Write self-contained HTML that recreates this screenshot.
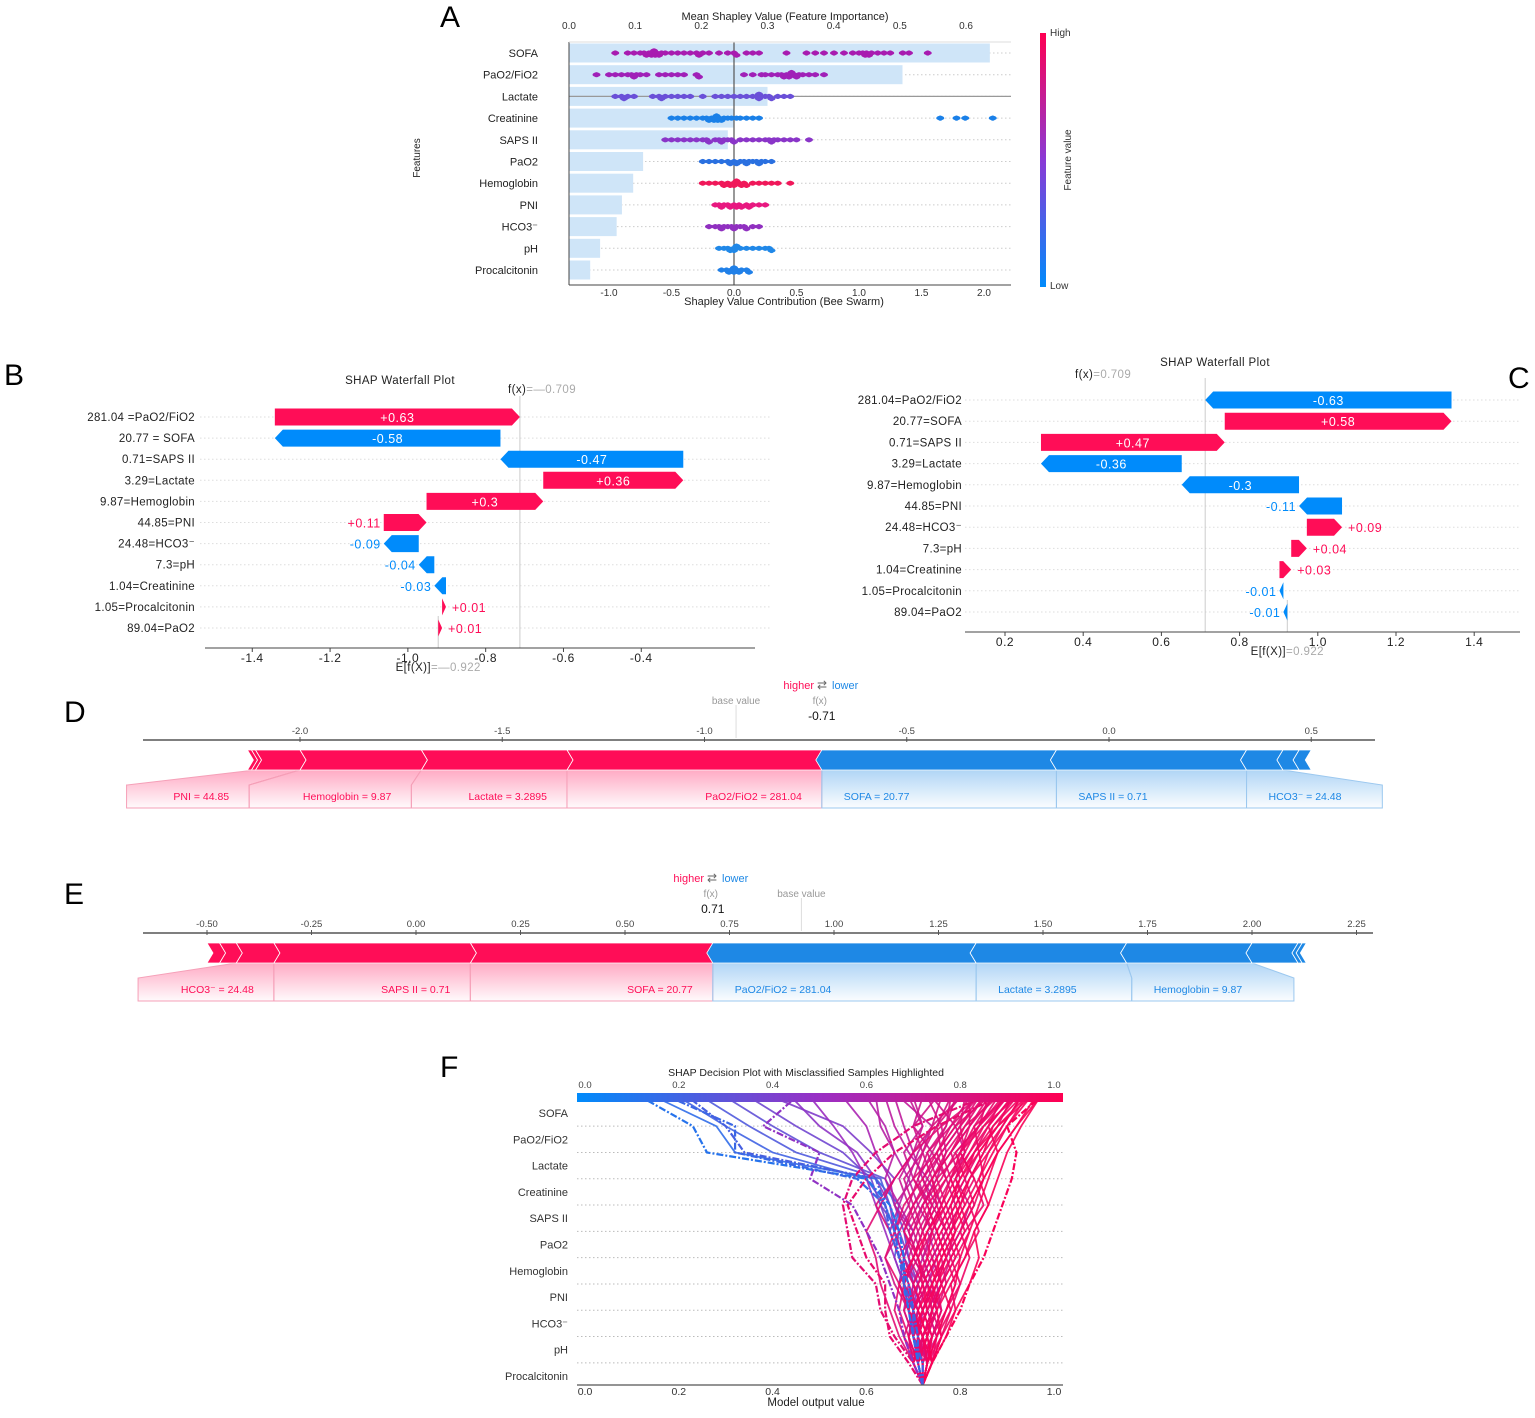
<!DOCTYPE html>
<html><head><meta charset="utf-8"><title>SHAP figure</title>
<style>
html,body{margin:0;padding:0;background:#fff;}
svg{display:block;font-family:"Liberation Sans",Arial,sans-serif;}
</style></head>
<body>
<svg id="fig" xmlns="http://www.w3.org/2000/svg" width="1535" height="1418" viewBox="0 0 1535 1418">
<defs>
<linearGradient id="cbarV" x1="0" y1="0" x2="0" y2="1"><stop offset="0" stop-color="#ff0052"/><stop offset="0.5" stop-color="#8a3ad6"/><stop offset="1" stop-color="#008bfb"/></linearGradient>
<linearGradient id="cbarH" x1="0" y1="0" x2="1" y2="0"><stop offset="0" stop-color="#008bfb"/><stop offset="0.5" stop-color="#9a2fc4"/><stop offset="1" stop-color="#ff0052"/></linearGradient>
<linearGradient id="pinkFade" x1="0" y1="0" x2="0" y2="1"><stop offset="0" stop-color="#ff0d57" stop-opacity="0.35"/><stop offset="1" stop-color="#ff0d57" stop-opacity="0.02"/></linearGradient>
<linearGradient id="blueFade" x1="0" y1="0" x2="0" y2="1"><stop offset="0" stop-color="#1e88e5" stop-opacity="0.35"/><stop offset="1" stop-color="#1e88e5" stop-opacity="0.02"/></linearGradient>
</defs>
<rect x="0" y="0" width="1535" height="1418" fill="#fff"/>
<text x="440" y="27" font-size="30">A</text>
<text x="4" y="385" font-size="30">B</text>
<text x="1508" y="388" font-size="30">C</text>
<text x="64" y="722" font-size="30">D</text>
<text x="64" y="904" font-size="30">E</text>
<text x="440" y="1077" font-size="30">F</text>
</svg>
<script>
// ---------- DATA ----------
const features = ["SOFA","PaO2/FiO2","Lactate","Creatinine","SAPS II","PaO2","Hemoglobin","PNI","HCO3\u207B","pH","Procalcitonin"];
const aImportance = [0.636,0.504,0.30,0.25,0.24,0.112,0.097,0.08,0.072,0.047,0.032];
const aTopTicks = [0.0,0.1,0.2,0.3,0.4,0.5,0.6];
const aBottomTicks = [-1.0,-0.5,0.0,0.5,1.0,1.5,2.0];
const swarmSOFA = [-0.95,-0.85,-0.8,-0.75,-0.72,-0.7,-0.68,-0.66,-0.65,-0.64,-0.63,-0.62,-0.6,-0.58,-0.55,-0.5,-0.45,-0.4,-0.35,-0.3,-0.28,-0.25,-0.2,-0.12,-0.05,0.0,0.02,0.1,0.15,0.2,0.42,0.58,0.65,0.72,0.8,0.88,0.95,1.0,1.03,1.05,1.06,1.08,1.1,1.15,1.2,1.25,1.35,1.4,1.55];
const swarmPF = [-1.1,-1.0,-0.95,-0.9,-0.85,-0.82,-0.8,-0.78,-0.75,-0.7,-0.6,-0.55,-0.5,-0.45,-0.4,-0.3,-0.28,0.08,0.15,0.22,0.25,0.3,0.35,0.38,0.4,0.42,0.44,0.45,0.46,0.48,0.5,0.52,0.55,0.6,0.65,0.72];
const swarmLactate = [-0.95,-0.9,-0.88,-0.85,-0.8,-0.65,-0.6,-0.58,-0.55,-0.5,-0.45,-0.4,-0.35,-0.25,-0.15,-0.1,-0.05,0.0,0.05,0.1,0.15,0.18,0.2,0.2,0.22,0.25,0.28,0.3,0.35,0.4,0.45];
const swarmCreat = [-0.5,-0.45,-0.4,-0.35,-0.3,-0.25,-0.22,-0.2,-0.18,-0.16,-0.15,-0.14,-0.13,-0.12,-0.1,-0.08,-0.05,-0.02,0.02,0.05,0.1,0.15,0.2,1.65,1.78,1.85,2.07];
const swarmSAPS = [-0.55,-0.5,-0.45,-0.4,-0.35,-0.3,-0.25,-0.22,-0.2,-0.15,-0.12,-0.1,-0.08,-0.05,-0.02,0.0,0.05,0.1,0.15,0.2,0.25,0.28,0.3,0.32,0.35,0.4,0.45,0.5,0.6];
const swarmPaO2 = [-0.25,-0.2,-0.15,-0.1,-0.05,-0.03,0.0,0.02,0.05,0.08,0.1,0.12,0.15,0.18,0.2,0.22,0.25,0.3];
const swarmHemo = [-0.25,-0.2,-0.15,-0.1,-0.08,-0.05,-0.03,0.0,0.0,0.02,0.04,0.06,0.08,0.1,0.15,0.2,0.25,0.3,0.35,0.45];
const swarmPNI = [-0.15,-0.12,-0.1,-0.08,-0.05,-0.03,0.0,0.02,0.04,0.06,0.1,0.12,0.15,0.2,0.25];
const swarmHCO3 = [-0.2,-0.15,-0.12,-0.1,-0.08,-0.05,-0.02,0.0,0.02,0.05,0.08,0.1,0.15,0.2];
const swarmPH = [-0.12,-0.08,-0.05,-0.03,0.0,0.0,0.02,0.05,0.1,0.15,0.2,0.25,0.28,0.3];
const swarmProcal = [-0.1,-0.06,-0.04,-0.02,0.0,0.0,0.02,0.04,0.06,0.1,0.12];
const swarmColors = ['#a81bb0','#a020b8','#6a50d8','#1a80e8','#8a35c8','#2a70e0','#f0185a','#e81880','#9030c0','#2088e8','#2080e8'];

const bLabels = ["281.04 =PaO2/FiO2","20.77 = SOFA","0.71=SAPS II","3.29=Lactate","9.87=Hemoglobin","44.85=PNI","24.48=HCO3\u207B","7.3=pH","1.04=Creatinine","1.05=Procalcitonin","89.04=PaO2"];
const bValues = [0.63,-0.58,-0.47,0.36,0.3,0.11,-0.09,-0.04,-0.03,0.01,0.01];
const bBase = -0.922;
const bTicks = [-1.4,-1.2,-1.0,-0.8,-0.6,-0.4];
const cLabels = ["281.04=PaO2/FiO2","20.77=SOFA","0.71=SAPS II","3.29=Lactate","9.87=Hemoglobin","44.85=PNI","24.48=HCO3\u207B","7.3=pH","1.04=Creatinine","1.05=Procalcitonin","89.04=PaO2"];
const cValues = [-0.63,0.58,0.47,-0.36,-0.3,-0.11,0.09,0.04,0.03,-0.01,-0.01];
const cBase = 0.922;
const cTicks = [0.2,0.4,0.6,0.8,1.0,1.2,1.4];

const dNames = ["PaO2/FiO2 = 281.04","Lactate = 3.2895","Hemoglobin = 9.87","PNI = 44.85","Procalcitonin = 1.05","PaO2 = 89.04","SOFA = 20.77","SAPS II = 0.71","HCO3\u207B = 24.48","pH = 7.3","Creatinine = 1.04"];
const dValues = [0.63,0.36,0.3,0.11,0.01,0.01,-0.58,-0.47,-0.09,-0.04,-0.03];
const dLabeled = [1,1,1,1,0,0,1,1,1,0,0];
const dBase = -0.922, dFx = -0.71;
const dTicks = [-2.0,-1.5,-1.0,-0.5,0.0,0.5];
const eNames = ["SOFA = 20.77","SAPS II = 0.71","HCO3\u207B = 24.48","pH = 7.3","Creatinine = 1.04","PaO2/FiO2 = 281.04","Lactate = 3.2895","Hemoglobin = 9.87","PNI = 44.85","Procalcitonin = 1.05","PaO2 = 89.04"];
const eValues = [0.58,0.47,0.09,0.04,0.03,-0.63,-0.36,-0.3,-0.11,-0.01,-0.01];
const eLabeled = [1,1,1,0,0,1,1,1,0,0,0];
const eBase = 0.922, eFx = 0.71;
const eTicks = [-0.50,-0.25,0.00,0.25,0.50,0.75,1.00,1.25,1.50,1.75,2.00,2.25];

const fTicks = [0.0,0.2,0.4,0.6,0.8,1.0];
// cumulative model output per sample: [base, +Procal, +pH, +HCO3, +PNI, +Hemo, +PaO2, +SAPS, +Creat, +Lactate, +PaO2/FiO2, +SOFA]
const fSamples = [
[.72,.73,.75,.77,.79,.80,.82,.84,.86,.88,.92,.96],
[.72,.71,.73,.74,.76,.75,.78,.80,.82,.85,.87,.93],
[.72,.72,.70,.72,.70,.73,.74,.76,.78,.80,.83,.90],
[.72,.74,.76,.78,.80,.82,.80,.83,.85,.84,.88,.91],
[.72,.70,.69,.67,.68,.70,.72,.75,.74,.78,.81,.88],
[.72,.73,.72,.74,.73,.76,.74,.72,.76,.79,.84,.86],
[.72,.71,.70,.71,.69,.67,.70,.73,.70,.75,.78,.84],
[.72,.74,.73,.75,.77,.76,.79,.77,.80,.78,.82,.82],
[.72,.70,.72,.69,.71,.73,.71,.74,.72,.76,.75,.80],
[.72,.73,.75,.73,.76,.78,.76,.79,.77,.74,.77,.78],
[.72,.71,.69,.70,.68,.70,.68,.71,.74,.72,.74,.76],
[.72,.72,.74,.76,.75,.77,.80,.82,.79,.81,.79,.74],
[.72,.73,.71,.72,.74,.72,.75,.73,.71,.74,.70,.72],
[.72,.70,.71,.69,.70,.68,.66,.69,.67,.70,.72,.70],
[.72,.74,.76,.75,.78,.81,.83,.86,.84,.87,.90,.95],
[.72,.71,.73,.75,.74,.77,.79,.78,.81,.83,.86,.89],
[.72,.73,.72,.70,.72,.71,.73,.76,.79,.82,.85,.92],
[.72,.72,.70,.73,.71,.74,.77,.75,.78,.81,.80,.85],
[.72,.71,.72,.74,.76,.74,.72,.74,.77,.75,.79,.83],
[.72,.74,.75,.77,.79,.77,.80,.83,.81,.84,.83,.87],
[.72,.71,.70,.68,.69,.67,.65,.67,.64,.66,.63,.62],
[.72,.73,.71,.72,.70,.68,.70,.66,.65,.62,.60,.55],
[.72,.70,.69,.71,.68,.66,.64,.62,.60,.57,.53,.48],
[.72,.71,.72,.70,.71,.69,.67,.63,.66,.61,.55,.40],
[.72,.72,.70,.69,.67,.68,.66,.65,.62,.58,.50,.44],
[.72,.71,.70,.69,.68,.66,.67,.65,.63,.45,.35,.25],
[.72,.70,.71,.69,.70,.68,.66,.64,.60,.40,.30,.20],
[.72,.71,.69,.70,.67,.68,.66,.67,.62,.32,.28,.15],
[.72,.73,.71,.72,.70,.69,.68,.66,.64,.50,.40,.30],
[.72,.71,.70,.71,.69,.67,.65,.63,.61,.55,.45,.35],
[.72,.73,.74,.72,.75,.77,.75,.78,.80,.83,.88,.94],
[.72,.71,.73,.71,.73,.70,.72,.70,.73,.76,.80,.81],
[.72,.74,.72,.74,.76,.79,.77,.80,.83,.80,.85,.90],
[.72,.70,.68,.70,.72,.69,.71,.69,.71,.73,.77,.79],
[.72,.73,.75,.78,.76,.79,.82,.80,.78,.82,.86,.91],
[.72,.72,.74,.72,.74,.72,.70,.72,.75,.77,.76,.73],
[.72,.71,.70,.72,.70,.72,.74,.71,.69,.71,.74,.67],
[.72,.73,.72,.75,.73,.75,.73,.76,.73,.69,.66,.64],
[.72,.71,.73,.74,.77,.80,.78,.81,.84,.86,.89,.93],
[.72,.74,.73,.71,.74,.76,.79,.82,.85,.88,.92,.97],
[.72,.72,.71,.73,.72,.75,.78,.81,.79,.83,.87,.92],
[.72,.73,.74,.76,.74,.77,.75,.78,.81,.79,.84,.88],
[.72,.71,.72,.70,.73,.71,.74,.77,.75,.80,.82,.86],
[.72,.70,.71,.73,.75,.73,.76,.79,.82,.86,.90,.94],
[.72,.74,.77,.79,.82,.84,.83,.86,.88,.90,.93,.97],
[.72,.70,.67,.65,.63,.62,.60,.63,.66,.70,.76,.84],
[.72,.73,.76,.79,.78,.81,.84,.82,.85,.88,.86,.91],
[.72,.71,.68,.66,.67,.64,.66,.68,.72,.75,.79,.86],
[.72,.72,.74,.77,.80,.78,.81,.85,.83,.80,.84,.89],
[.72,.70,.72,.75,.73,.71,.68,.70,.74,.78,.82,.87],
[.72,.74,.72,.69,.67,.70,.73,.77,.80,.84,.88,.95],
[.72,.71,.74,.72,.70,.67,.65,.62,.66,.70,.74,.80],
[.72,.73,.70,.68,.71,.74,.77,.80,.78,.76,.80,.84],
[.72,.72,.75,.73,.76,.74,.77,.74,.70,.72,.75,.78],
[.72,.71,.69,.72,.75,.78,.81,.79,.82,.85,.89,.93],
[.72,.73,.71,.69,.66,.64,.67,.70,.68,.72,.70,.75],
[.72,.74,.76,.74,.72,.75,.78,.76,.74,.77,.81,.85],
[.72,.70,.73,.71,.68,.71,.69,.72,.75,.73,.78,.82],
[.72,.72,.70,.72,.74,.77,.75,.73,.77,.81,.84,.90],
[.72,.71,.72,.70,.73,.71,.69,.66,.70,.68,.72,.69],
[.72,.73,.74,.76,.73,.70,.72,.75,.72,.70,.68,.66],
[.72,.70,.71,.73,.71,.68,.70,.67,.69,.66,.64,.60]
];
const fMisclassified = [
[.72,.70,.66,.63,.62,.57,.56,.55,.57,.62,.70,.85],
[.72,.74,.77,.80,.82,.85,.87,.89,.91,.92,.90,.97],
[.72,.69,.65,.64,.64,.60,.58,.56,.60,.66,.75,.88],
[.72,.70,.68,.67,.65,.63,.60,.57,.48,.50,.38,.45],
[.72,.71,.70,.69,.68,.68,.67,.65,.60,.26,.23,.12],
[.72,.71,.71,.70,.69,.67,.66,.64,.58,.32,.32,.18],
[.72,.72,.70,.70,.68,.67,.65,.64,.62,.34,.30,.22]
];

// ---------- HELPERS ----------
const NS = 'http://www.w3.org/2000/svg';
const svg = document.getElementById('fig');
function mk(tag, attrs, parent){ const e=document.createElementNS(NS,tag); for(const k in attrs) e.setAttribute(k,attrs[k]); (parent||svg).appendChild(e); return e; }
function tx(x,y,s,attrs,parent){ const e=mk('text',Object.assign({x:x,y:y},attrs||{}),parent); e.textContent=s; return e; }
function grp(){ return mk('g',{}); }
const RED='#ff0d57', BLUE='#1e88e5', WBLUE='#008bfb';

// ---------- PANEL A ----------
const gA = grp();


const xImp = v => 569 + v*661.7;
const xShap = v => 734 + v*125;
const rowA = i => 53 + i*21.7;
const aPlotL=569, aPlotR=1011, aTop=42, aBot=285;
features.forEach((f,i)=>{
  const gl = mk('line',{x1:aPlotL,x2:aPlotR,y1:rowA(i),y2:rowA(i),stroke:'#ccc','stroke-dasharray':'1.5,2.5','stroke-width':1},gA);
  
  
  const b = mk('rect',{x:aPlotL,y:rowA(i)-9.5,width:xImp(aImportance[i])-aPlotL,height:19,fill:'#cfe5f8'},gA);
  
  
  const l = tx(538,rowA(i)+4,f,{'font-size':11,'text-anchor':'end',fill:'#222'},gA);
  
  
});
const lacLine = mk('line',{x1:aPlotL,x2:aPlotR,y1:rowA(2),y2:rowA(2),stroke:'#999','stroke-width':1.2},gA);


const zeroLine = mk('line',{x1:xShap(0),x2:xShap(0),y1:aTop,y2:aBot,stroke:'#555','stroke-width':1.2},gA);


const swarms=[swarmSOFA,swarmPF,swarmLactate,swarmCreat,swarmSAPS,swarmPaO2,swarmHemo,swarmPNI,swarmHCO3,swarmPH,swarmProcal];
swarms.forEach((arr,i)=>{
  const placed=[];
  const r=2.6;
  arr.slice().sort((a,b)=>a-b).forEach(v=>{
    const x=xShap(v);
    let off=0;
    for(let k=0;k<7;k++){
      const cand = (k%2?1:-1)*Math.ceil(k/2)*2.2;
      if(!placed.some(p=>Math.abs(p.x-x)<3 && Math.abs(p.y-cand)<2)){ off=cand; break; }
      off=cand;
    }
    placed.push({x:x,y:off});
    const d = mk('circle',{cx:x,cy:rowA(i)+off,r:r,fill:swarmColors[i]},gA);
    
    
    const d2 = mk('ellipse',{cx:x,cy:rowA(i)+off,rx:4,ry:2.2,fill:swarmColors[i]},gA);
    
    
  });
});
mk('line',{x1:aPlotL,x2:aPlotL,y1:aTop,y2:aBot,stroke:'#444'},gA);
mk('line',{x1:aPlotL,x2:aPlotR,y1:aBot,y2:aBot,stroke:'#444'},gA);
mk('line',{x1:aPlotL,x2:aPlotR,y1:aTop,y2:aTop,stroke:'#ddd'},gA);
aTopTicks.forEach(t=>{
  const e=tx(xImp(t),29,t.toFixed(1),{'font-size':10,'text-anchor':'middle',fill:'#333'},gA);
  
  
});
aBottomTicks.forEach(t=>{
  const e=tx(xShap(t),296,t.toFixed(1),{'font-size':10,'text-anchor':'middle',fill:'#333'},gA);
  
  
});
let e;
e=tx(785,20,'Mean Shapley Value (Feature Importance)',{'font-size':11,'text-anchor':'middle',fill:'#222'},gA);

e=tx(784,305,'Shapley Value Contribution (Bee Swarm)',{'font-size':11,'text-anchor':'middle',fill:'#222'},gA);

e=tx(0,0,'Features',{'font-size':10,'text-anchor':'middle',fill:'#222',transform:'translate(420,158) rotate(-90)'},gA);

e=mk('rect',{x:1040,y:33,width:6,height:254,fill:'url(#cbarV)'},gA);

e=tx(1050,36,'High',{'font-size':10,fill:'#333'},gA);

e=tx(1050,289,'Low',{'font-size':10,fill:'#333'},gA);

e=tx(0,0,'Feature value',{'font-size':10,'text-anchor':'middle',fill:'#333',transform:'translate(1071,160) rotate(-90)'},gA);


// ---------- WATERFALLS ----------
function waterfall(cfg){
  const g=grp();
  
  
  const n=cfg.values.length;
  cfg.labels.forEach((l,i)=>{
    const gl=mk('line',{x1:cfg.gridL,x2:cfg.gridR,y1:cfg.row(i),y2:cfg.row(i),stroke:'#ddd','stroke-dasharray':'1.5,2.5'},g);
    
    
    const t=tx(cfg.labelX,cfg.row(i)+4,l,{'font-size':11.5,'text-anchor':'end',fill:'#222','letter-spacing':'0.3'},g);
    
    
  });
  const baseL=mk('line',{x1:cfg.x(cfg.base),x2:cfg.x(cfg.base),y1:cfg.row(n-1)-12,y2:cfg.axisY,stroke:'#ccc'},g);
  
  
  let cum=cfg.base;
  const ends=[];
  for(let i=n-1;i>=0;i--){ const s=cum, en=cum+cfg.values[i]; ends[i]={s:s,e:en}; cum=en; }
  const fx=cum;
  const fxL=mk('line',{x1:cfg.x(fx),x2:cfg.x(fx),y1:cfg.fxTop,y2:cfg.axisY,stroke:'#ccc'},g);
  
  
  for(let i=0;i<n;i++){
    const v=cfg.values[i], y=cfg.row(i), h=17, y0=y-h/2, y1=y+h/2;
    const xs=cfg.x(ends[i].s), xe=cfg.x(ends[i].e);
    const w=Math.abs(xe-xs), hd=Math.min(8,w);
    let pts;
    if(v>=0) pts=[[xs,y0],[xe-hd,y0],[xe,y],[xe-hd,y1],[xs,y1]];
    else pts=[[xs,y0],[xe+hd,y0],[xe,y],[xe+hd,y1],[xs,y1]];
    const col = v>=0?RED:WBLUE;
    const p=mk('polygon',{points:pts.map(q=>q.join(',')).join(' '),fill:col},g);
    
    
    const lbl=(v>0?'+':'')+String(v);
    let t;
    if(Math.abs(v)>=0.2){
      t=tx((xs+xe)/2,y+5,lbl,{'font-size':12.5,'text-anchor':'middle',fill:'#fff','letter-spacing':'0.5'},g);
    } else if(v>0 && v<=cfg.posLeftAbove){
      t=tx(Math.max(xs,xe)+6,y+5,lbl,{'font-size':12.5,fill:RED,'letter-spacing':'0.5'},g);
    } else {
      t=tx(Math.min(xs,xe)-3,y+5,lbl,{'font-size':12.5,'text-anchor':'end',fill:v>0?RED:WBLUE,'letter-spacing':'0.5'},g);
    }
    
    
  }
  const ax=mk('line',{x1:cfg.axL,x2:cfg.axR,y1:cfg.axisY,y2:cfg.axisY,stroke:'#444'},g);
  
  
  cfg.ticks.forEach(t=>{
    const tk=mk('line',{x1:cfg.x(t),x2:cfg.x(t),y1:cfg.axisY,y2:cfg.axisY+4,stroke:'#444'},g);
    
    
    const tl=tx(cfg.x(t),cfg.axisY+14,t.toFixed(1),{'font-size':12,'text-anchor':'middle',fill:'#222','letter-spacing':'0.5'},g);
    
    
  });
  const tt=tx(cfg.titleX,cfg.titleY,'SHAP Waterfall Plot',{'font-size':11.5,'text-anchor':'middle',fill:'#222','letter-spacing':'0.4'},g);
  
  
  const fl=tx(cfg.fxLabelX,cfg.fxLabelY,'',{'font-size':11.5,fill:'#222','letter-spacing':'0.4'},g);
  fl.innerHTML='f(x)<tspan fill="#aaa">='+(fx<0?'\u2014':'')+'0.709</tspan>';
  
  
  const el=tx(cfg.x(cfg.base),cfg.axisY+23,'',{'font-size':11.5,'text-anchor':'middle',fill:'#222','letter-spacing':'0.4'},g);
  el.innerHTML='E[f(X)]<tspan fill="#aaa">='+(cfg.base<0?'\u2014':'')+Math.abs(cfg.base).toFixed(3)+'</tspan>';
  
  
}
waterfall({name:'panel-b-waterfall',labels:bLabels,values:bValues,base:bBase,ticks:bTicks,posLeftAbove:0.05,
  x:v=>276+(v+1.339)*389,row:i=>417+i*21.1,labelX:195,gridL:200,gridR:770,axisY:648,axL:205,axR:755,
  fxTop:396,titleX:400,titleY:384,fxLabelX:508,fxLabelY:393});
waterfall({name:'panel-c-waterfall',labels:cLabels,values:cValues,base:cBase,ticks:cTicks,posLeftAbove:9,
  x:v=>1005+(v-0.2)*391,row:i=>400+i*21.2,labelX:962,gridL:965,gridR:1520,axisY:632,axL:965,axR:1520,
  fxTop:378,titleX:1215,titleY:366,fxLabelX:1075,fxLabelY:378});

// ---------- FORCE PLOTS ----------
function force(cfg){
  const g=grp();
  
  
  const y0=cfg.barY, y1=cfg.barY+20, ym=cfg.barY+10;
  const ax=mk('line',{x1:cfg.axL,x2:cfg.axR,y1:cfg.axisY,y2:cfg.axisY,stroke:'#555','stroke-width':1.5},g);
  
  
  cfg.ticks.forEach(t=>{
    const tk=mk('line',{x1:cfg.x(t),x2:cfg.x(t),y1:cfg.axisY-3,y2:cfg.axisY+2,stroke:'#555'},g);
    
    
    const tl=tx(cfg.x(t),cfg.axisY-6,cfg.fmt(t),{'font-size':9.5,'text-anchor':'middle',fill:'#444'},g);
    
    
  });
  const bl=mk('line',{x1:cfg.x(cfg.base),x2:cfg.x(cfg.base),y1:cfg.axisY-35,y2:cfg.axisY-2,stroke:'#ddd'},g);
  
  
  const fxX=cfg.x(cfg.fx);
  let curR=fxX, curB=fxX;
  const redSegs=[], blueSegs=[];
  cfg.values.forEach((v,i)=>{
    const w=Math.abs(v)*cfg.scale;
    if(v>0){ redSegs.push({a:curR-w,b:curR,i:i}); curR-=w; }
    else { blueSegs.push({a:curB,b:curB+w,i:i}); curB+=w; }
  });
  let prevR=fxX;
  redSegs.forEach(s=>{
    if(!cfg.labeled[s.i]) return;
    const need=cfg.names[s.i].length*6.6+50;
    const right=prevR, left=Math.min(s.a, right-need);
    const poly=mk('polygon',{points:[[s.a,y1],[s.b,y1],[right,y1+15],[right,y1+38],[left,y1+38],[left,y1+15]].map(q=>q.join(',')).join(' '),fill:'url(#pinkFade)',stroke:'#f5a0b8','stroke-width':1},g);
    
    
    const t=tx(right-20,y1+30,cfg.names[s.i],{'font-size':10.5,'text-anchor':'end',fill:RED},g);
    
    
    prevR=left;
  });
  let prevB=fxX;
  blueSegs.forEach(s=>{
    if(!cfg.labeled[s.i]) return;
    const need=cfg.names[s.i].length*6.6+50;
    const left=prevB, right=Math.max(s.b, left+need);
    const poly=mk('polygon',{points:[[s.a,y1],[s.b,y1],[right,y1+15],[right,y1+38],[left,y1+38],[left,y1+15]].map(q=>q.join(',')).join(' '),fill:'url(#blueFade)',stroke:'#9cc8ef','stroke-width':1},g);
    
    
    const t=tx(left+22,y1+30,cfg.names[s.i],{'font-size':10.5,fill:BLUE},g);
    
    
    prevB=right;
  });
  redSegs.forEach(s=>{
    const p=mk('polygon',{points:[[s.a,y0],[s.b,y0],[s.b+6,ym],[s.b,y1],[s.a,y1],[s.a+6,ym]].map(q=>q.join(',')).join(' '),fill:RED,stroke:'#fff','stroke-width':0.8},g);
    
    
  });
  blueSegs.forEach(s=>{
    const p=mk('polygon',{points:[[s.a,y0],[s.b,y0],[s.b-6,ym],[s.b,y1],[s.a,y1],[s.a-6,ym]].map(q=>q.join(',')).join(' '),fill:BLUE,stroke:'#fff','stroke-width':0.8},g);
    
    
  });
  const hi=tx(cfg.legendX-8,cfg.legendY,'higher',{'font-size':11,'text-anchor':'end',fill:RED},g);
  
  
  const ar=tx(cfg.legendX,cfg.legendY,'\u21C4',{'font-size':12,'text-anchor':'middle',fill:'#666'},g);
  
  
  const lo=tx(cfg.legendX+10,cfg.legendY,'lower',{'font-size':11,fill:BLUE},g);
  
  
  const bv=tx(cfg.x(cfg.base),cfg.axisY-36,'base value',{'font-size':10,'text-anchor':'middle',fill:'#999'},g);
  
  
  const fl=tx(fxX-2,cfg.axisY-36,'f(x)',{'font-size':10,'text-anchor':'middle',fill:'#999'},g);
  
  
  const fv=tx(fxX,cfg.axisY-20,cfg.fx.toFixed(2),{'font-size':12,'text-anchor':'middle',fill:'#111'},g);
  
  
}
force({name:'panel-d-force-plot',names:dNames,values:dValues,labeled:dLabeled,base:dBase,fx:dFx,ticks:dTicks,
  x:v=>1109+v*404.5,scale:404.5,axisY:740,axL:143,axR:1375,barY:750,legendX:822,legendY:689,fmt:t=>t.toFixed(1)});
force({name:'panel-e-force-plot',names:eNames,values:eValues,labeled:eLabeled,base:eBase,fx:eFx,ticks:eTicks,
  x:v=>416+v*418,scale:418,axisY:933,axL:143,axR:1373,barY:943,legendX:712,legendY:882,fmt:t=>t.toFixed(2)});

// ---------- PANEL F ----------
const gF=grp();


const xF=v=>585+v*469;
const rowF=i=>1113+i*26.3;
const yIdx=k=> k===0?1385:(k===11?1097:rowF(10-k)+13.15);
features.forEach((f,i)=>{
  const t=tx(568,rowF(i)+4,f,{'font-size':11,'text-anchor':'end',fill:'#333'},gF);
  
  
  if(i<10){
    const gl=mk('line',{x1:577,x2:1063,y1:rowF(i)+13.15,y2:rowF(i)+13.15,stroke:'#bbb','stroke-dasharray':'1.5,2.5'},gF);
    
    
  }
});
function colF(v){
  const s=[[0,[0,139,251]],[0.5,[160,40,190]],[1,[255,0,82]]];
  v=Math.max(0,Math.min(1,v));
  const k=v<=0.5?0:1, t=(v-s[k][0])/0.5;
  const c=s[k][1].map((a,j)=>Math.round(a+(s[k+1][1][j]-a)*t));
  return 'rgb('+c.join(',')+')';
}
fSamples.slice().sort((a,b)=>a[11]-b[11]).forEach(s=>{
  const p=mk('polyline',{points:s.map((v,k)=>xF(v)+','+yIdx(k)).join(' '),fill:'none',stroke:colF(s[11]),'stroke-width':1.8,'stroke-opacity':0.9},gF);
  
  
});
fMisclassified.forEach(s=>{
  const p=mk('polyline',{points:s.map((v,k)=>xF(v)+','+yIdx(k)).join(' '),fill:'none',stroke:colF(s[11]),'stroke-width':2.2,'stroke-dasharray':'7,2,2,2'},gF);
  
  
});
e=mk('rect',{x:577,y:1093,width:486,height:9,fill:'url(#cbarH)'},gF);


e=mk('line',{x1:577,x2:1063,y1:1385,y2:1385,stroke:'#555','stroke-width':1.3},gF);


fTicks.forEach(t=>{
  const a=tx(xF(t),1088,t.toFixed(1),{'font-size':9.5,'text-anchor':'middle',fill:'#444'},gF);
  
  
  const b=tx(xF(t),1395,t.toFixed(1),{'font-size':10.5,'text-anchor':'middle',fill:'#333'},gF);
  
  
});
e=tx(806,1076,'SHAP Decision Plot with Misclassified Samples Highlighted',{'font-size':10.5,'text-anchor':'middle',fill:'#222'},gF);


e=tx(816,1406,'Model output value',{'font-size':11.5,'text-anchor':'middle',fill:'#222'},gF);


</script>
</body></html>
